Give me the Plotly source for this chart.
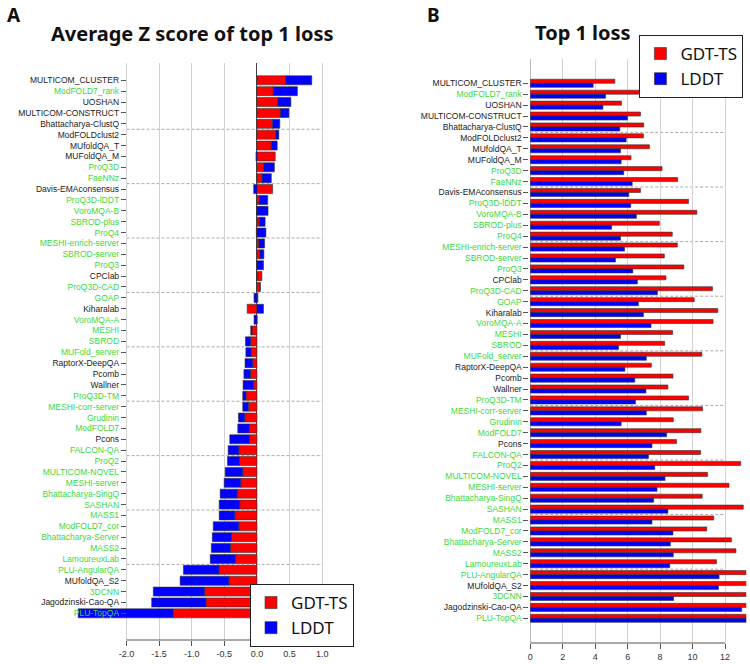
import plotly.graph_objects as go

# ---------------- data ----------------
models = [
    "MULTICOM_CLUSTER", "ModFOLD7_rank", "UOSHAN", "MULTICOM-CONSTRUCT", "Bhattacharya-ClustQ",
    "ModFOLDclust2", "MUfoldQA_T", "MUFoldQA_M", "ProQ3D", "FaeNNz",
    "Davis-EMAconsensus", "ProQ3D-lDDT", "VoroMQA-B", "SBROD-plus", "ProQ4",
    "MESHI-enrich-server", "SBROD-server", "ProQ3", "CPClab", "ProQ3D-CAD",
    "GOAP", "Kiharalab", "VoroMQA-A", "MESHI", "SBROD",
    "MUFold_server", "RaptorX-DeepQA", "Pcomb", "Wallner", "ProQ3D-TM",
    "MESHI-corr-server", "Grudinin", "ModFOLD7", "Pcons", "FALCON-QA",
    "ProQ2", "MULTICOM-NOVEL", "MESHI-server", "Bhattacharya-SingQ", "SASHAN",
    "MASS1", "ModFOLD7_cor", "Bhattacharya-Server", "MASS2", "LamoureuxLab",
    "PLU-AngularQA", "MUfoldQA_S2", "3DCNN", "Jagodzinski-Cao-QA", "PLU-TopQA",
]

# True = label drawn in green (single-model methods)
single_model = [
    False, True, False, False, False,
    False, False, False, True, True,
    False, True, True, True, True,
    True, True, True, False, True,
    True, False, True, True, True,
    True, False, False, False, True,
    True, True, True, False, True,
    True, True, True, True, True,
    True, True, True, True, True,
    True, False, True, False, True,
]

# Panel A: average Z score of top 1 loss
z_gdt = [
    0.44, 0.25, 0.32, 0.36, 0.24,
    0.29, 0.22, 0.28, 0.107, 0.08,
    0.24, 0.035, 0.0, 0.035, -0.01,
    0.03, 0.046, 0.0, 0.076, 0.046,
    0.015, -0.15, 0.0, -0.076, -0.10,
    -0.09, -0.066, -0.10, -0.05, -0.168,
    -0.132, -0.188, -0.117, -0.117, -0.279,
    -0.269, -0.218, -0.249, -0.305, -0.264,
    -0.34, -0.279, -0.39, -0.406, -0.33,
    -0.584, -0.431, -0.802, -0.782, -1.284,
]
z_lddt = [
    0.40, 0.37, 0.20, 0.13, 0.11,
    0.045, 0.09, -0.015, 0.16, 0.14,
    -0.05, 0.13, 0.17, 0.09, 0.137,
    0.087, 0.06, 0.10, 0.0, 0.005,
    -0.045, 0.10, -0.045, -0.02, -0.076,
    -0.08, -0.117, -0.10, -0.163, -0.05,
    -0.086, -0.096, -0.177, -0.30, -0.163,
    -0.183, -0.269, -0.254, -0.259, -0.315,
    -0.239, -0.391, -0.295, -0.294, -0.386,
    -0.543, -0.747, -0.787, -0.832, -1.457,
]

# Panel B: top 1 loss
loss_gdt = [
    5.21, 7.42, 5.62, 6.79, 6.99,
    6.97, 7.34, 6.21, 8.12, 9.08,
    6.79, 9.75, 10.26, 7.95, 8.75,
    9.06, 8.26, 9.46, 8.36, 11.22,
    10.10, 11.55, 11.26, 8.77, 8.28,
    10.57, 7.46, 8.79, 8.48, 9.75,
    10.61, 8.81, 10.51, 9.01, 10.49,
    12.96, 10.92, 12.24, 10.59, 13.12,
    11.30, 10.87, 12.39, 12.67, 11.47,
    14.0, 14.0, 14.0, 14.0, 14.0,
]
loss_lddt = [
    3.88, 4.64, 4.48, 5.99, 5.52,
    5.91, 5.56, 5.60, 5.76, 6.28,
    6.07, 6.19, 6.54, 5.01, 5.56,
    5.81, 5.25, 6.32, 6.60, 7.83,
    6.66, 6.97, 7.44, 5.56, 5.44,
    7.15, 5.83, 6.44, 7.13, 6.48,
    7.15, 5.60, 8.40, 7.50, 7.28,
    7.67, 8.30, 7.81, 7.60, 8.48,
    7.50, 8.79, 8.63, 8.81, 8.59,
    11.63, 11.59, 8.83, 13.02, 14.0,
]

z_ticks = [-2.0, -1.5, -1.0, -0.5, 0.0, 0.5, 1.0]
z_tick_labels = ["-2.0", "-1.5", "-1.0", "-0.5", "0.0", "0.5", "1.0"]
loss_ticks = [0, 2, 4, 6, 8, 10, 12]
loss_tick_labels = ["0", "2", "4", "6", "8", "10", "12"]
group_size = 5

# ---------------- style ----------------
RED = "#FF0000"
BLUE = "#0000FF"
EDGE = "#333333"
GREEN_TXT = "#3cd83c"
BLACK_TXT = "#222222"
GRID = "#d2d2d2"
W, H = 750, 664

def px_x(p):
    return p / W

def px_y(p):
    return (H - p) / H

tick_text = [
    f'<span style="color:{GREEN_TXT}">{m}</span>' if g else f'<span style="color:{BLACK_TXT}">{m}</span>'
    for m, g in zip(models, single_model)
]

# LDDT stacks on GDT-TS when signs agree, otherwise starts at zero (relative stacking)
lddt_base = [g if (g > 0) == (l > 0) else 0 for g, l in zip(z_gdt, z_lddt)]

fig = go.Figure()
fig.add_trace(go.Bar(
    y=models, x=z_gdt, orientation="h", name="GDT-TS",
    marker=dict(color=RED, line=dict(color=EDGE, width=0.6)),
    width=0.83, offset=-0.415, xaxis="x", yaxis="y", legend="legend",
))
fig.add_trace(go.Bar(
    y=models, x=z_lddt, base=lddt_base, orientation="h", name="LDDT",
    marker=dict(color=BLUE, line=dict(color=EDGE, width=0.6)),
    width=0.83, offset=-0.415, xaxis="x", yaxis="y", legend="legend",
))
fig.add_trace(go.Bar(
    y=models, x=loss_gdt, orientation="h", name="GDT-TS",
    marker=dict(color=RED, line=dict(color=EDGE, width=0.6)),
    width=0.37, offset=-0.37, xaxis="x2", yaxis="y2", legend="legend2",
))
fig.add_trace(go.Bar(
    y=models, x=loss_lddt, orientation="h", name="LDDT",
    marker=dict(color=BLUE, line=dict(color=EDGE, width=0.6)),
    width=0.37, offset=0.0, xaxis="x2", yaxis="y2", legend="legend2",
))

common_y = dict(
    type="category", categoryorder="array", categoryarray=models,
    tickvals=models, ticktext=tick_text,
    showgrid=False, zeroline=False, showline=False,
    ticks="outside", ticklen=5, tickwidth=1, tickcolor="#555",
    tickfont=dict(size=8.5, family="Liberation Sans"),
)
common_x = dict(
    showgrid=True, gridcolor=GRID, gridwidth=1.3, showline=False,
    ticks="outside", ticklen=5, tickwidth=1, tickcolor="#555",
    tickfont=dict(size=9, family="Liberation Sans", color="#333"),
)

legend_style = dict(
    xanchor="left", yanchor="top", bgcolor="white", bordercolor="#222", borderwidth=1,
    font=dict(size=17, family="Noto Sans", color="#111"), tracegroupgap=0,
)

fig.update_layout(
    width=W, height=H,
    margin=dict(l=0, r=0, t=0, b=0),
    paper_bgcolor="white", plot_bgcolor="white",
    barmode="overlay",
    font=dict(family="Liberation Sans", color="#222"),
    xaxis=dict(domain=[px_x(71.6), px_x(343.4)], range=[-2.8, 1.35], anchor="y",
               tickvals=z_ticks, ticktext=z_tick_labels,
               zeroline=True, zerolinecolor="#444", zerolinewidth=1.3, **common_x),
    yaxis=dict(domain=[px_y(640), px_y(63)], range=[51.45, -1.59],
               anchor="free", position=px_x(123.3), **common_y),
    xaxis2=dict(domain=[px_x(529.3), px_x(746.2)], range=[0, 13.3], anchor="y2",
                tickvals=loss_ticks, ticktext=loss_tick_labels,
                zeroline=True, zerolinecolor="#bbb", zerolinewidth=1.3, **common_x),
    yaxis2=dict(domain=[px_y(643), px_y(59)], range=[51.26, -2.225],
                anchor="free", position=px_x(527.5), **common_y),
    legend=dict(x=px_x(248), y=px_y(584), **legend_style),
    legend2=dict(x=px_x(639), y=px_y(35), **legend_style),
    showlegend=True,
)

shapes = []
# axis lines spanning the tick range only
shapes.append(dict(type="line", xref="x", yref="y domain", x0=z_ticks[0], x1=z_ticks[-1],
                   y0=0, y1=0, line=dict(color="#555", width=1)))
shapes.append(dict(type="line", xref="x2", yref="y2 domain", x0=loss_ticks[0], x1=loss_ticks[-1],
                   y0=0, y1=0, line=dict(color="#555", width=1)))
# dashed group separators
for k in range(group_size, len(models), group_size):
    shapes.append(dict(type="line", xref="x", yref="y", x0=z_ticks[0], x1=z_ticks[-1],
                       y0=k - 0.5, y1=k - 0.5, layer="below",
                       line=dict(color="#aaaaaa", width=1, dash="3px,2px")))
    shapes.append(dict(type="line", xref="x2", yref="y2", x0=loss_ticks[0], x1=loss_ticks[-1],
                       y0=k - 0.5, y1=k - 0.5, layer="below",
                       line=dict(color="#aaaaaa", width=1, dash="3px,2px")))
fig.update_layout(shapes=shapes)

title_font = dict(family="Noto Sans", size=20, color="#111")
panel_font = dict(family="Noto Sans", size=19, color="#111")
fig.add_annotation(text="<b>A</b>", xref="paper", yref="paper", x=px_x(2), y=px_y(0),
                   xanchor="left", yanchor="top", showarrow=False, font=panel_font)
fig.add_annotation(text="<b>B</b>", xref="paper", yref="paper", x=px_x(424), y=px_y(0),
                   xanchor="left", yanchor="top", showarrow=False, font=panel_font)
fig.add_annotation(text="<b>Average Z score of top 1 loss</b>", xref="paper", yref="paper",
                   x=px_x(190), y=px_y(34), xanchor="center", yanchor="middle",
                   showarrow=False, font=title_font)
fig.add_annotation(text="<b>Top 1 loss</b>", xref="paper", yref="paper",
                   x=px_x(582), y=px_y(33), xanchor="center", yanchor="middle",
                   showarrow=False, font=title_font)

fig.write_html(
    "out.html",
    config={"displayModeBar": False},
    post_script="document.body.style.margin='0';document.body.style.overflow='hidden';",
)
